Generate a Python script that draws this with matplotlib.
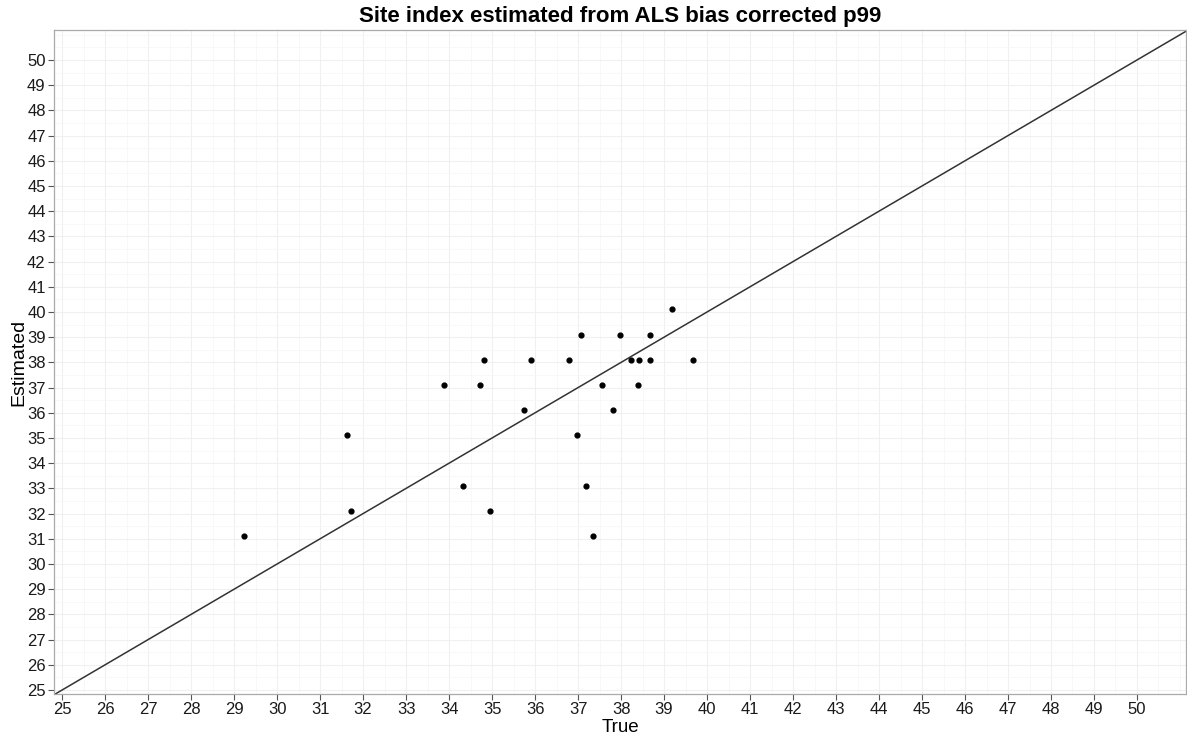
import numpy as np
import matplotlib
matplotlib.use('Agg')
import matplotlib.pyplot as plt
from matplotlib.ticker import MultipleLocator

plt.rcParams['font.family'] = ['Liberation Sans', 'DejaVu Sans']

# observed (true) vs estimated site index
true_si = [29.23, 31.63, 31.72, 33.89, 34.33, 34.73, 34.81, 34.96, 35.75, 35.91,
           36.78, 36.98, 37.07, 37.19, 37.34, 37.56, 37.82, 37.98, 38.23, 38.39,
           38.42, 38.67, 38.68, 39.19, 39.67]
est_si = [31.1, 35.1, 32.1, 37.1, 33.1, 37.1, 38.1, 32.1, 36.1, 38.1,
          38.1, 35.1, 39.1, 33.1, 31.1, 37.1, 36.1, 39.1, 38.1, 37.1,
          38.1, 38.1, 39.1, 40.1, 38.1]
ticks = list(range(25, 51))

fig = plt.figure(figsize=(11.87, 7.35), dpi=100)
ax = fig.add_axes([54 / 1187, 41 / 735, 1132 / 1187, 664 / 735])

ax.set_xlim(24.81, 51.14)
ax.set_ylim(24.84, 51.19)

ax.xaxis.set_minor_locator(MultipleLocator(0.5))
ax.yaxis.set_minor_locator(MultipleLocator(0.5))
ax.set_xticks(ticks)
ax.set_yticks(ticks)
ax.grid(which='major', color='#f0f0f0', linewidth=0.8)
ax.grid(which='minor', color='#f7f7f7', linewidth=0.6)
ax.set_axisbelow(True)
ax.tick_params(which='minor', length=0)
ax.tick_params(which='major', length=4, width=0.8, color='#555555',
               labelsize=12, labelcolor='#1a1a1a', pad=2)

for s in ax.spines.values():
    s.set_color('#aaaaaa')
    s.set_linewidth(0.9)

# 1:1 line
ax.axline((25, 25), slope=1, color='#333333', linewidth=1.1, zorder=2)
ax.scatter(true_si, est_si, s=12, color='black', zorder=3)

ax.set_xlabel('True', fontsize=13.5, labelpad=1)
ax.set_ylabel('Estimated', fontsize=14, labelpad=0)
ax.set_title('Site index estimated from ALS bias corrected p99',
             fontsize=16, fontweight='bold', pad=6)

fig.savefig('out.png', dpi=100)
